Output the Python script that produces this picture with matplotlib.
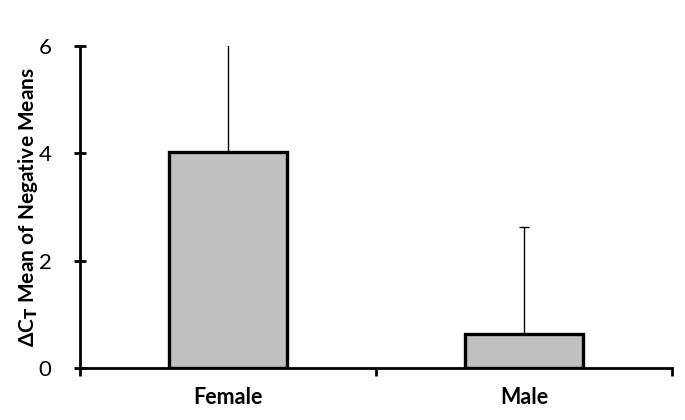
import matplotlib
matplotlib.use("Agg")
import matplotlib.pyplot as plt

categories = ["Female", "Male"]
means = [4.02, 0.63]
errors = [2.2, 2.0]
yticks = [0, 2, 4, 6]

plt.rcParams['font.family'] = ['Lato', 'DejaVu Sans']

fig = plt.figure(figsize=(6.85, 4.2), dpi=100)
ax = fig.add_axes([0.117, 0.124, 0.864, 0.766])

x = list(range(len(categories)))
ax.bar(x, means, width=0.4, color="#c0c0c0", edgecolor="black", linewidth=2.4, zorder=2)
ax.errorbar(x, means, yerr=[[0, 0], errors], fmt="none", ecolor="black",
            elinewidth=1.0, capsize=3.5, capthick=1.0, zorder=3)

ax.set_xlim(-0.5, 1.5)
ax.set_ylim(0, 6)
ax.set_yticks(yticks)
ax.set_yticklabels([str(v) for v in yticks], fontsize=16)
ax.set_xticks([-0.5, 0.5, 1.5])
ax.set_xticklabels([])
ax.set_xticks(x, minor=True)
ax.set_xticklabels(categories, minor=True, fontsize=15.5, fontweight="bold")
ax.tick_params(axis="x", which="minor", length=0, pad=14)
ax.tick_params(axis="x", which="major", direction="out", length=6, width=2)
ax.tick_params(axis="y", direction="inout", length=9, width=2, pad=16)

for s in ["top", "right"]:
    ax.spines[s].set_visible(False)
for s in ["left", "bottom"]:
    ax.spines[s].set_linewidth(2)

ax.set_ylabel(r"ΔC$_\mathbf{T}$ Mean of Negative Means", fontsize=15, fontweight="bold", labelpad=-1)

fig.savefig("out.png", dpi=100)
